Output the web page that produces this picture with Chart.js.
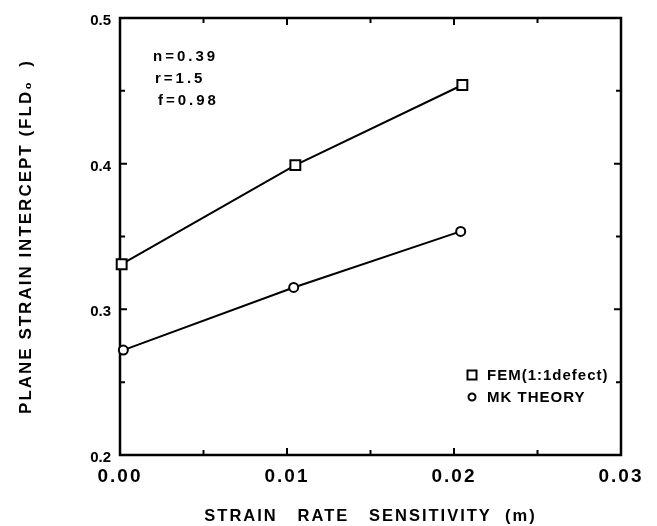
<!DOCTYPE html>
<html><head><meta charset="utf-8">
<script src="https://cdn.jsdelivr.net/npm/chart.js@4/dist/chart.umd.min.js"></script>
<style>html,body{margin:0;padding:0;background:#fff}</style>
</head><body>
<canvas id="c" width="657" height="526"></canvas>
<script>
// ---- data ----
const femM   = [0.0001, 0.0105, 0.0205];
const femFLD = [0.331, 0.399, 0.454];
const mkM    = [0.0002, 0.0104, 0.0204];
const mkFLD  = [0.272, 0.315, 0.3535];
const seriesNames = ['FEM(1:1defect)', 'MK THEORY'];
const xTickValues = [0, 0.01, 0.02, 0.03];
const yTickValues = [0.2, 0.3, 0.4, 0.5];
const notes = ['n=0.39', 'r=1.5', 'f=0.98'];
const xTitle = 'STRAIN   RATE   SENSITIVITY  (m)';
const yTitle = 'PLANE STRAIN INTERCEPT (FLD\u2080  )';

const FONT = "'Liberation Sans', Arial, Helvetica, sans-serif";
Chart.defaults.font.family = FONT;
Chart.defaults.color = '#000';

function toPts(xs, ys){ return xs.map((x,i)=>({x:x, y:ys[i]})); }

function patch(scale, method, sp){
  const orig = scale[method];
  scale[method] = function(){
    const c = this.ctx; const prev = c.letterSpacing;
    c.letterSpacing = sp;
    const r = orig.apply(this, arguments);
    c.letterSpacing = prev;
    return r;
  };
}

const spacingPlugin = {
  id: 'spacing',
  afterLayout(chart){
    const sx = chart.scales.x, sy = chart.scales.y;
    if (!sx._lsp){ patch(sx,'drawLabels','2px'); patch(sx,'drawTitle','2px'); sx._lsp = true; }
    if (!sy._lsp){ patch(sy,'drawLabels','0px'); patch(sy,'drawTitle','2px'); sy._lsp = true; }
  }
};

const framePlugin = {
  id: 'frame',
  beforeDatasetsDraw(chart){
    const {ctx, chartArea:a} = chart;
    const sx = chart.scales.x, sy = chart.scales.y;
    ctx.save();
    ctx.strokeStyle = '#000';
    ctx.lineWidth = 2.5;
    ctx.strokeRect(a.left, a.top, a.right - a.left, a.bottom - a.top);
    ctx.lineWidth = 2;
    ctx.beginPath();
    for (let i = 1; i < 6; i++){
      const px = sx.getPixelForValue(i * 0.005);
      const L = (i % 2 === 0) ? 7 : 5;
      ctx.moveTo(px, a.bottom); ctx.lineTo(px, a.bottom - L);
      ctx.moveTo(px, a.top); ctx.lineTo(px, a.top + L);
    }
    for (let i = 1; i < 6; i++){
      const py = sy.getPixelForValue(0.2 + i * 0.05);
      const L = (i % 2 === 0) ? 7 : 5;
      ctx.moveTo(a.left, py); ctx.lineTo(a.left + L, py);
      ctx.moveTo(a.right, py); ctx.lineTo(a.right - L, py);
    }
    ctx.stroke();
    ctx.restore();
  }
};

const notesPlugin = {
  id: 'notes',
  afterDraw(chart){
    const {ctx} = chart;
    ctx.save();
    ctx.fillStyle = '#000';
    ctx.textBaseline = 'middle';
    ctx.textAlign = 'left';
    ctx.font = 'bold 15px ' + FONT;
    ctx.letterSpacing = '3px';
    const nx = [153, 155, 158];
    notes.forEach((t,i)=>{ ctx.fillText(t, nx[i], 57 + i * 22); });
    // legend
    ctx.letterSpacing = '1px';
    ctx.lineWidth = 2;
    ctx.strokeStyle = '#000';
    ctx.fillStyle = '#fff';
    ctx.fillRect(467.5, 370.5, 9, 9);
    ctx.strokeRect(467.5, 370.5, 9, 9);
    ctx.beginPath(); ctx.arc(472, 397, 3.5, 0, Math.PI*2); ctx.fill(); ctx.stroke();
    ctx.fillStyle = '#000';
    ctx.fillText(seriesNames[0], 487, 376);
    ctx.fillText(seriesNames[1], 487, 398);
    ctx.restore();
  }
};

new Chart(document.getElementById('c'), {
  type: 'scatter',
  data: {
    datasets: [
      { label: seriesNames[0], data: toPts(femM, femFLD), showLine: true,
        borderColor: '#000', borderWidth: 2, pointStyle: 'rect', pointRadius: 7,
        pointBackgroundColor: '#fff', pointBorderColor: '#000', pointBorderWidth: 2, clip: false },
      { label: seriesNames[1], data: toPts(mkM, mkFLD), showLine: true,
        borderColor: '#000', borderWidth: 2, pointStyle: 'circle', pointRadius: 4.5,
        pointBackgroundColor: '#fff', pointBorderColor: '#000', pointBorderWidth: 2, clip: false }
    ]
  },
  options: {
    responsive: false,
    devicePixelRatio: 1,
    animation: false,
    layout: { padding: { top: 17, right: 36, left: 0, bottom: 0 } },
    plugins: { legend: { display: false }, tooltip: { enabled: false } },
    scales: {
      x: {
        type: 'linear', min: 0, max: 0.03,
        afterBuildTicks: s => { s.ticks = xTickValues.map(v => ({ value: v })); },
        afterFit: s => { s.height = 71; },
        grid: { display: false, drawTicks: false },
        border: { display: false },
        ticks: { callback: v => Number(v).toFixed(2), font: { size: 19, weight: 'bold' }, padding: 10, maxRotation: 0, autoSkip: false },
        title: { display: true, text: xTitle, font: { size: 16.5, weight: 'bold' }, padding: { top: 0, bottom: 0 } }
      },
      y: {
        type: 'linear', min: 0.2, max: 0.5,
        afterBuildTicks: s => { s.ticks = yTickValues.map(v => ({ value: v })); },
        afterFit: s => { s.width = 120; },
        grid: { display: false, drawTicks: false },
        border: { display: false },
        ticks: { callback: v => Number(v).toFixed(1), font: { size: 15, weight: 'bold' }, padding: 9, labelOffset: 3, autoSkip: false },
        title: { display: true, text: yTitle, font: { size: 17, weight: 'bold' }, padding: { top: 16, bottom: 0 } }
      }
    }
  },
  plugins: [spacingPlugin, framePlugin, notesPlugin]
});
</script>
</body></html>
